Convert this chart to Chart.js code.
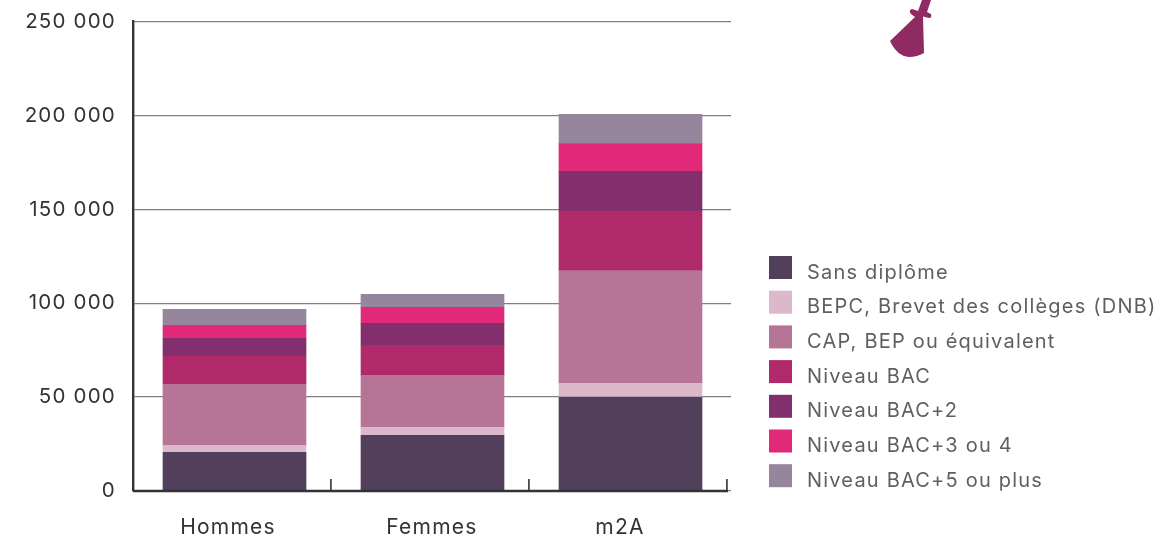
<!DOCTYPE html>
<html>
<head>
<meta charset="utf-8">
<title>Niveau de diplôme</title>
<script src="https://cdn.jsdelivr.net/npm/chart.js@4"></script>
<style>
html, body { margin: 0; padding: 0; background: #fff; overflow: hidden; }
canvas { display: block; }
#broom { position: absolute; left: 880px; top: 0; }
</style>
</head>
<body>
<canvas id="chart" width="1157" height="536"></canvas>
<svg id="broom" width="60" height="62" viewBox="880 0 60 62">
    <path fill="#8f2a62" d="M922 0 L931 0 L927 12 L931 14 Q932 18 929 18 L923 16.5 L924 53 Q917 57 909 57 Q897 56 890 41 L915 17 L911 14 Q908 10 912 9 L918 11 Z"/>
</svg>
<script>
const categories = ["Hommes", "Femmes", "m2A"];

const seriesNames = [
    "Sans diplôme",
    "BEPC, Brevet des collèges (DNB)",
    "CAP, BEP ou équivalent",
    "Niveau BAC",
    "Niveau BAC+2",
    "Niveau BAC+3 ou 4",
    "Niveau BAC+5 ou plus"
];

const sansDiplome = [20600, 29700, 50000];
const bepc = [3700, 4200, 7300];
const cap = [32500, 27700, 60100];
const bac = [15100, 16000, 31600];
const bac2 = [9400, 11700, 21200];
const bac34 = [6900, 8500, 14900];
const bac5 = [8500, 6900, 15500];

const seriesValues = [sansDiplome, bepc, cap, bac, bac2, bac34, bac5];
const seriesColors = ["#513f5c", "#dbb9cb", "#b67496", "#b02a6b", "#832f6d", "#e22879", "#95869d"];

const fontName = "Inter, 'Noto Sans', sans-serif";

// x positions of the category names and of the small axis marks, in bar units
const labelPlaces = [-0.033, 0.997, 1.947];
const axisMarks = [0.487, 1.487, 2.487];

const extras = {
    id: "extras",
    beforeDraw(chart) {
        // the reference font is wider than anything installed
        chart.ctx.letterSpacing = "1.2px";
    },
    afterDatasetsDraw(chart) {
        const ctx = chart.ctx;
        const x = chart.scales.x;
        const y0 = chart.scales.y.getPixelForValue(0);
        const lastMark = x.getPixelForValue(axisMarks[axisMarks.length - 1]);

        ctx.save();
        ctx.strokeStyle = "#333";
        ctx.lineWidth = 2.4;
        ctx.beginPath();
        ctx.moveTo(chart.chartArea.left, y0);
        ctx.lineTo(lastMark + 1, y0);
        ctx.stroke();

        ctx.lineWidth = 1.6;
        axisMarks.forEach(m => {
            const px = x.getPixelForValue(m);
            ctx.beginPath();
            ctx.moveTo(px, y0);
            ctx.lineTo(px, y0 - 12);
            ctx.stroke();
        });

        // legend
        ctx.font = "20px " + fontName;
        ctx.textBaseline = "middle";
        ctx.textAlign = "left";
        seriesNames.forEach((name, i) => {
            const top = 256 + i * 34.7;
            ctx.fillStyle = seriesColors[i];
            ctx.fillRect(769, top, 23, 23);
            ctx.fillStyle = "#5f5f5f";
            ctx.fillText(name, 807, top + 16.5);
        });
        ctx.restore();
    }
};

new Chart(document.getElementById("chart"), {
    type: "bar",
    data: {
        datasets: seriesNames.map((name, s) => ({
            label: name,
            data: seriesValues[s].map((v, i) => ({ x: i, y: v })),
            backgroundColor: seriesColors[s],
            barThickness: 143
        }))
    },
    options: {
        responsive: false,
        animation: false,
        layout: { padding: { top: 21.6, right: 426, bottom: 0, left: 0 } },
        plugins: {
            legend: { display: false },
            tooltip: { enabled: false }
        },
        scales: {
            x: {
                type: "linear",
                stacked: true,
                offset: false,
                min: -0.5126,
                max: 2.5076,
                afterBuildTicks: scale => {
                    scale.ticks = labelPlaces.map(v => ({ value: v }));
                },
                afterFit: scale => {
                    scale.height = 45;
                    scale.paddingLeft = 0;
                    scale.paddingRight = 0;
                },
                grid: { display: false, offset: false },
                border: { display: false },
                ticks: {
                    autoSkip: false,
                    maxRotation: 0,
                    padding: 16,
                    color: "#333",
                    font: { family: fontName, size: 21 },
                    callback: (v, i) => categories[i]
                }
            },
            y: {
                stacked: true,
                min: 0,
                max: 250000,
                afterFit: scale => {
                    scale.width = 133;
                    scale.paddingTop = 0;
                    scale.paddingBottom = 0;
                },
                grid: { color: "#808080", lineWidth: 1.3, tickLength: 0 },
                border: { color: "#333", width: 2.4 },
                ticks: {
                    stepSize: 50000,
                    padding: 17,
                    color: "#333",
                    font: { family: fontName, size: 20.5 },
                    callback: v => String(v).replace(/\B(?=(\d{3})+$)/g, " ")
                }
            }
        }
    },
    plugins: [extras]
});
</script>
</body>
</html>
